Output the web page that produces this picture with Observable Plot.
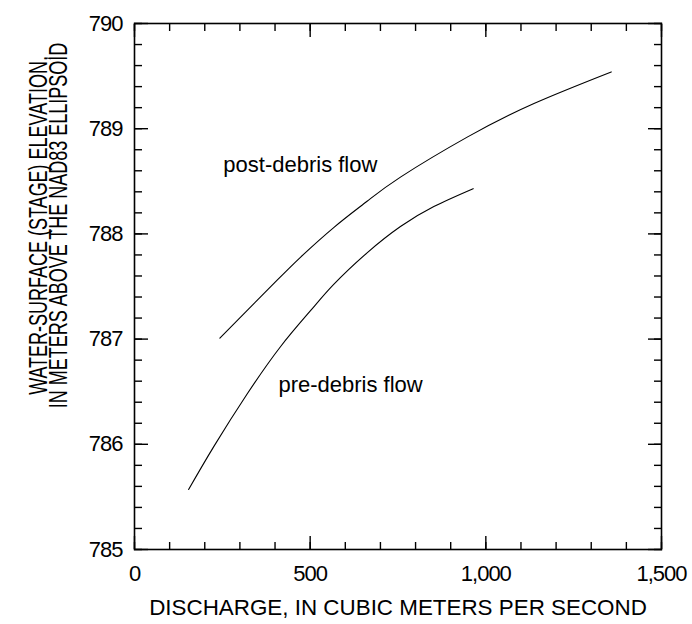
<!DOCTYPE html>
<html>
<head>
<meta charset="utf-8">
<script src="https://cdn.jsdelivr.net/npm/d3@7"></script>
<script src="https://cdn.jsdelivr.net/npm/@observablehq/plot@0.6"></script>
<style>
  html, body { margin: 0; padding: 0; background: #fff; }
  #chart svg { display: block; }
  #chart g[aria-label="x-axis tick label"] text,
  #chart g[aria-label="y-axis tick label"] text { letter-spacing: -1px; }
</style>
</head>
<body>
<div id="chart"></div>
<script>
// Pre-debris flow rating curve (discharge m3/s, stage m)
const preQ     = [154, 226, 321, 416, 501, 567, 662, 757, 852, 964];
const preStage = [785.57, 785.98, 786.48, 786.93, 787.27, 787.52, 787.82, 788.07, 788.26, 788.43];
// Post-debris flow rating curve
const postQ     = [243, 406, 473, 567, 662, 757, 947, 1137, 1357];
const postStage = [787.01, 787.56, 787.78, 788.06, 788.31, 788.54, 788.92, 789.24, 789.54];

const xMajorTicks = [0, 500, 1000, 1500];
const xMinorTicks = [0,100,200,300,400,500,600,700,800,900,1000,1100,1200,1300,1400,1500];
const yMajorTicks = [785, 786, 787, 788, 789, 790];
const yMinorTicks = [785,785.2,785.4,785.6,785.8,786,786.2,786.4,786.6,786.8,787,787.2,787.4,787.6,787.8,
                     788,788.2,788.4,788.6,788.8,789,789.2,789.4,789.6,789.8,790];

const curveLabels = ["post-debris flow", "pre-debris flow"];
const labelQ = [472, 615];
const labelStage = [788.66, 786.56];

const xTitle = "DISCHARGE, IN CUBIC METERS PER SECOND";
const yTitle = "WATER-SURFACE (STAGE) ELEVATION,\nIN METERS ABOVE THE NAD83 ELLIPSOID";

const pre = preQ.map((q, i) => ({q, s: preStage[i]}));
const post = postQ.map((q, i) => ({q, s: postStage[i]}));
const labels = curveLabels.map((t, i) => ({t, q: labelQ[i], s: labelStage[i]}));

const font = "Liberation Sans, Arial, Helvetica, sans-serif";
const blank = () => "";
const tickStyle = {strokeWidth: 1.4, stroke: "#000", label: null, tickFormat: blank};

const chart = Plot.plot({
  width: 692,
  height: 624,
  marginLeft: 134,
  marginRight: 31,
  marginTop: 23,
  marginBottom: 75,
  style: {fontFamily: font, fontSize: "22px", color: "#000", background: "#fff"},
  x: {domain: [0, 1500]},
  y: {domain: [785, 790]},
  marks: [
    // minor ticks, inward, on all four sides
    Plot.axisX(xMinorTicks, {anchor: "bottom", tickSize: -7, ...tickStyle}),
    Plot.axisX(xMinorTicks, {anchor: "top", tickSize: -7, ...tickStyle}),
    Plot.axisY(yMinorTicks, {anchor: "left", tickSize: -8, ...tickStyle}),
    Plot.axisY(yMinorTicks, {anchor: "right", tickSize: -8, ...tickStyle}),
    // major ticks
    Plot.axisX(xMajorTicks, {anchor: "bottom", tickSize: -13, ...tickStyle}),
    Plot.axisX(xMajorTicks, {anchor: "top", tickSize: -13, ...tickStyle}),
    Plot.axisY(yMajorTicks, {anchor: "left", tickSize: -14, ...tickStyle}),
    Plot.axisY(yMajorTicks, {anchor: "right", tickSize: -14, ...tickStyle}),
    // tick labels
    Plot.axisX(xMajorTicks, {anchor: "bottom", tickSize: 0, tickPadding: 16, label: null,
      tickFormat: d3.format(","), fontSize: 22, fill: "#000"}),
    Plot.axisY(yMajorTicks, {anchor: "left", tickSize: 0, tickPadding: 12, label: null,
      tickFormat: d => String(d), fontSize: 22, fill: "#000"}),
    Plot.frame({stroke: "#000", strokeWidth: 1.6}),
    // curves
    Plot.line(pre, {x: "q", y: "s", curve: "natural", stroke: "#000", strokeWidth: 1.1}),
    Plot.line(post, {x: "q", y: "s", curve: "natural", stroke: "#000", strokeWidth: 1.1}),
    Plot.text(labels, {x: "q", y: "s", text: "t", fontSize: 22, fill: "#000", textAnchor: "middle"}),
    // axis titles
    Plot.text([xTitle], {frameAnchor: "bottom", dy: 65, fontSize: 22.4, fill: "#000", textAnchor: "middle"}),
    Plot.text([yTitle], {frameAnchor: "left", dx: -84, dy: -61, rotate: -90, fontSize: 25,
      textAnchor: "middle", lineHeight: 0.8, fill: "#000"})
  ]
});

// The reference sets the vertical title in a condensed face: compress it along its baseline.
d3.select(chart).selectAll("text")
  .filter(function () { return this.textContent.startsWith("WATER-SURFACE"); })
  .each(function () {
    const el = this.getAttribute("transform") ? this : this.parentNode;
    el.setAttribute("transform", (el.getAttribute("transform") || "") + " scale(0.72,1)");
  });

document.getElementById("chart").appendChild(chart);
</script>
</body>
</html>
